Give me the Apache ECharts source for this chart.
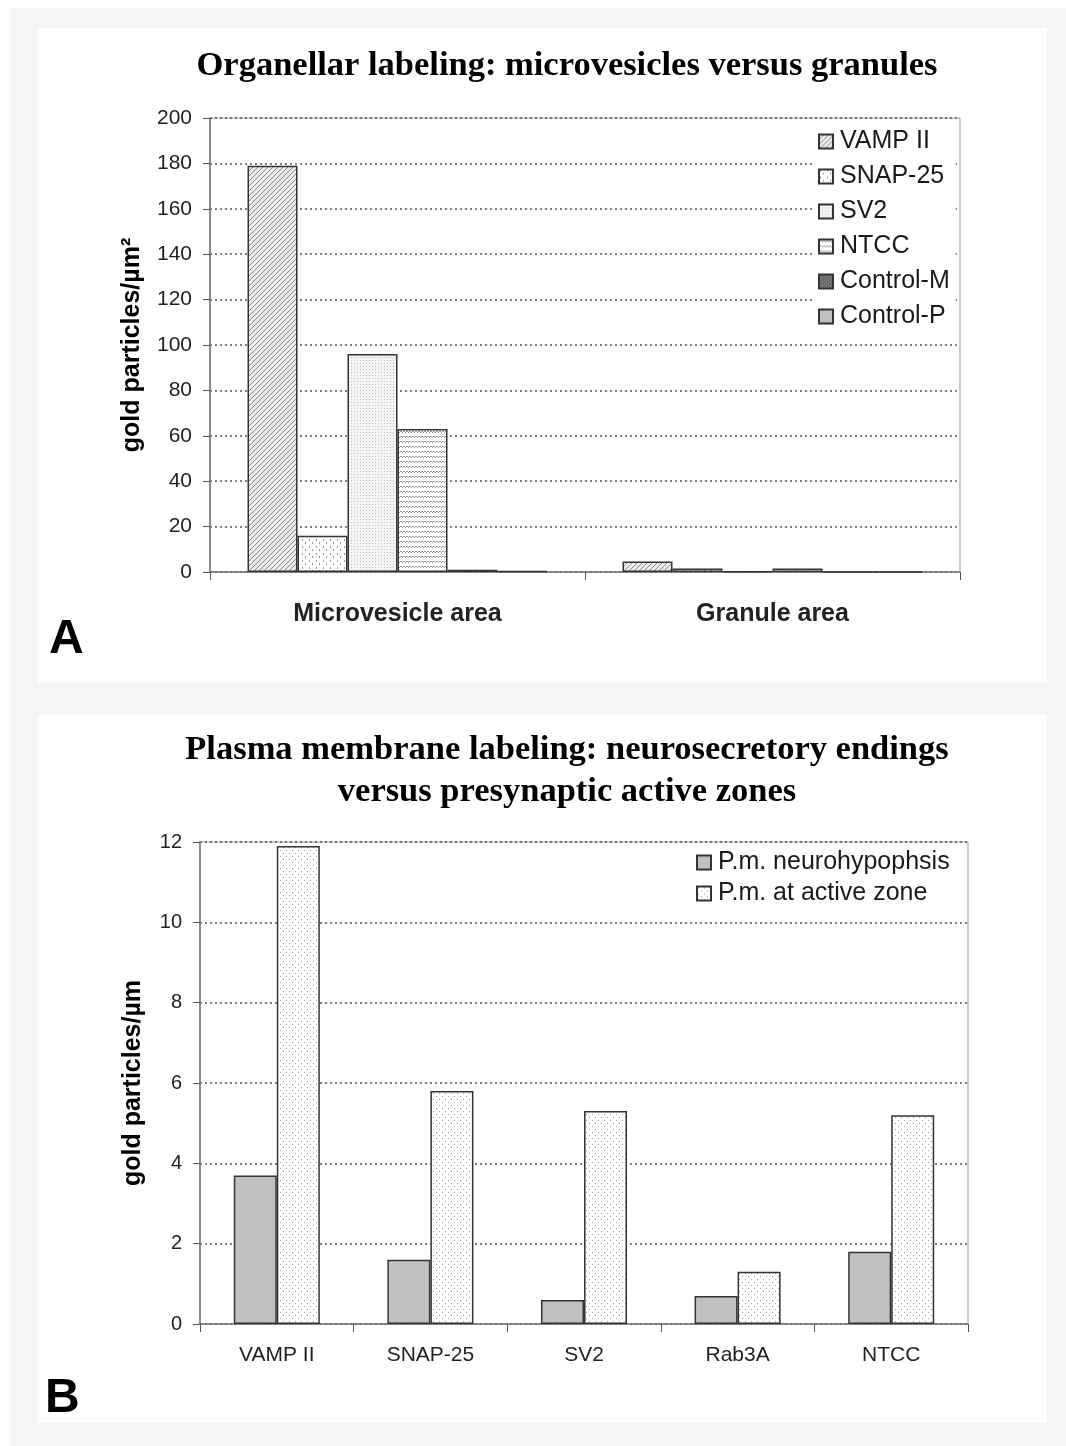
<!DOCTYPE html>
<html>
<head>
<meta charset="utf-8">
<script src="https://cdn.jsdelivr.net/npm/echarts@6/dist/echarts.min.js"></script>
<style>
  html, body { margin: 0; padding: 0; background: #fff; }
  #main { width: 1066px; height: 1446px; }
</style>
</head>
<body>
<div id="main"></div>
<script>
// panel A: organellar labeling (gold particles/µm²)
var areaCats = ['Microvesicle area', 'Granule area'];
var vampA = [179, 4.6];
var snapA = [16, 1.5];
var sv2A = [96, 0.3];
var ntccA = [63, 1.5];
var ctrlM = [1, 0];
var ctrlP = [0.5, 0];

// panel B: plasma membrane labeling (gold particles/µm)
var proteinCats = ['VAMP II', 'SNAP-25', 'SV2', 'Rab3A', 'NTCC'];
var neuroB = [3.7, 1.6, 0.6, 0.7, 1.8];
var activeB = [11.9, 5.8, 5.3, 1.3, 5.2];

function pattern(w, h, bg, draw) {
    var c = document.createElement('canvas');
    c.width = w; c.height = h;
    var ctx = c.getContext('2d');
    ctx.fillStyle = bg;
    ctx.fillRect(0, 0, w, h);
    if (draw) draw(ctx);
    return { image: c, repeat: 'repeat' };
}

var diag = pattern(5, 5, '#ececec', function (ctx) {
    ctx.strokeStyle = '#8a8a8a';
    ctx.lineWidth = 1;
    ctx.beginPath();
    ctx.moveTo(-1, 6); ctx.lineTo(6, -1);
    ctx.moveTo(-1, 1); ctx.lineTo(1, -1);
    ctx.moveTo(4, 6); ctx.lineTo(6, 4);
    ctx.stroke();
});
var bigDots = pattern(7, 7, '#ffffff', function (ctx) {
    ctx.fillStyle = '#9a9a9a';
    ctx.fillRect(1, 0, 1, 2);
    ctx.fillRect(4, 3, 1, 2);
});
var fineDots = pattern(3, 3, '#f4f4f4', function (ctx) {
    ctx.fillStyle = '#c4c4c4';
    ctx.fillRect(0, 0, 1, 1);
});
var waves = pattern(6, 5, '#ffffff', function (ctx) {
    ctx.fillStyle = '#999999';
    ctx.fillRect(0, 2, 1, 1);
    ctx.fillRect(1, 1, 1, 1);
    ctx.fillRect(2, 1, 1, 1);
    ctx.fillRect(3, 2, 1, 1);
    ctx.fillRect(4, 1, 1, 1);
    ctx.fillRect(5, 1, 1, 1);
});
var darkDots = pattern(4, 4, '#6a6a6a', function (ctx) {
    ctx.fillStyle = '#9a9a9a';
    ctx.fillRect(1, 1, 1, 1);
    ctx.fillRect(3, 3, 1, 1);
});
var activeDots = pattern(6, 6, '#ffffff', function (ctx) {
    ctx.fillStyle = '#9c9c9c';
    ctx.fillRect(1, 1, 1, 1);
    ctx.fillRect(4, 4, 1, 1);
});

var barBorder = { borderColor: '#333', borderWidth: 1.5 };
function barSeries(name, data, fill, idx) {
    return {
        name: name, type: 'bar', data: data,
        xAxisIndex: idx, yAxisIndex: idx,
        barGap: 0, barCategoryGap: idx === 0 ? '20%' : '44%',
        itemStyle: Object.assign({ color: fill }, barBorder),
        emphasis: { disabled: true }
    };
}

var sansFont = '"Liberation Sans", Arial, sans-serif';
var serifFont = '"Liberation Serif", "Times New Roman", serif';

var myChart = echarts.init(document.getElementById('main'));
var option = {
    animation: false,
    textStyle: { fontFamily: sansFont },
    graphic: [
        { type: 'rect', z: -10, shape: { x: 10, y: 8, width: 1056, height: 1438 }, style: { fill: '#f5f5f5' } },
        { type: 'rect', z: -9, shape: { x: 38, y: 28, width: 1009, height: 655 }, style: { fill: '#ffffff' } },
        { type: 'rect', z: -9, shape: { x: 38, y: 715, width: 1009, height: 708 }, style: { fill: '#ffffff' } },
        { type: 'text', left: 49, top: 616, style: { text: 'A', font: 'bold 48px ' + sansFont, fill: '#000' } },
        { type: 'text', left: 45, top: 1375, style: { text: 'B', font: 'bold 48px ' + sansFont, fill: '#000' } }
    ],
    title: [
        {
            text: 'Organellar labeling: microvesicles versus granules',
            left: 562, top: 44, textAlign: 'center',
            textStyle: { fontFamily: serifFont, fontWeight: 'bold', fontSize: 34.5, color: '#000' }
        },
        {
            text: 'Plasma membrane labeling: neurosecretory endings\nversus presynaptic active zones',
            left: 562, top: 724, textAlign: 'center',
            textStyle: { fontFamily: serifFont, fontWeight: 'bold', fontSize: 34.5, lineHeight: 42, color: '#000' }
        }
    ],
    legend: [
        {
            orient: 'vertical', left: 814, top: 125, icon: 'rect',
            itemWidth: 14, itemHeight: 14, itemGap: 10,
            backgroundColor: '#fff', padding: [4, 6, 4, 4],
            textStyle: { fontSize: 25, color: '#1a1a1a', padding: [0, 0, 0, 2] },
            data: ['VAMP II', 'SNAP-25', 'SV2', 'NTCC', 'Control-M', 'Control-P']
        },
        {
            orient: 'vertical', left: 692, top: 848, icon: 'rect',
            itemWidth: 14, itemHeight: 14, itemGap: 6,
            backgroundColor: '#fff', padding: [2, 4, 2, 4],
            textStyle: { fontSize: 25, color: '#1a1a1a', padding: [0, 0, 0, 2] },
            data: ['P.m. neurohypophsis', 'P.m. at active zone']
        }
    ],
    grid: [
        { left: 210, right: 106, top: 118, height: 454, show: true, borderColor: '#999', borderWidth: 1, backgroundColor: 'transparent' },
        { left: 200, right: 98, top: 842, height: 482, show: true, borderColor: '#999', borderWidth: 1, backgroundColor: 'transparent' }
    ],
    xAxis: [
        {
            gridIndex: 0, type: 'category', data: areaCats,
            axisLine: { lineStyle: { color: '#777', width: 1.5 } },
            axisTick: { show: true, length: 8, lineStyle: { color: '#555' } },
            axisLabel: { fontSize: 25, fontWeight: 'bold', color: '#222', margin: 30 }
        },
        {
            gridIndex: 1, type: 'category', data: proteinCats,
            axisLine: { lineStyle: { color: '#777', width: 1.5 } },
            axisTick: { show: true, length: 8, lineStyle: { color: '#555' } },
            axisLabel: { fontSize: 21, color: '#222', margin: 21 }
        }
    ],
    yAxis: [
        {
            gridIndex: 0, type: 'value', min: 0, max: 200, interval: 20,
            name: 'gold particles/µm²', nameLocation: 'middle', nameGap: 65,
            nameTextStyle: { fontSize: 25, fontWeight: 'bold', color: '#000' },
            axisLine: { show: true, lineStyle: { color: '#777', width: 1.5 } },
            axisTick: { show: true, length: 7, lineStyle: { color: '#555' } },
            axisLabel: { fontSize: 21, color: '#222', margin: 18 },
            splitLine: { lineStyle: { color: '#555', type: [2, 3], width: 1.5 } }
        },
        {
            gridIndex: 1, type: 'value', min: 0, max: 12, interval: 2,
            name: 'gold particles/µm', nameLocation: 'middle', nameGap: 54,
            nameTextStyle: { fontSize: 25, fontWeight: 'bold', color: '#000' },
            axisLine: { show: true, lineStyle: { color: '#777', width: 1.5 } },
            axisTick: { show: true, length: 7, lineStyle: { color: '#555' } },
            axisLabel: { fontSize: 20, color: '#222', margin: 18 },
            splitLine: { lineStyle: { color: '#555', type: [2, 3], width: 1.5 } }
        }
    ],
    series: [
        barSeries('VAMP II', vampA, diag, 0),
        barSeries('SNAP-25', snapA, bigDots, 0),
        barSeries('SV2', sv2A, fineDots, 0),
        barSeries('NTCC', ntccA, waves, 0),
        barSeries('Control-M', ctrlM, darkDots, 0),
        barSeries('Control-P', ctrlP, '#c0c0c0', 0),
        barSeries('P.m. neurohypophsis', neuroB, '#c0c0c0', 1),
        barSeries('P.m. at active zone', activeB, activeDots, 1)
    ]
};

myChart.setOption(option);
</script>
</body>
</html>
